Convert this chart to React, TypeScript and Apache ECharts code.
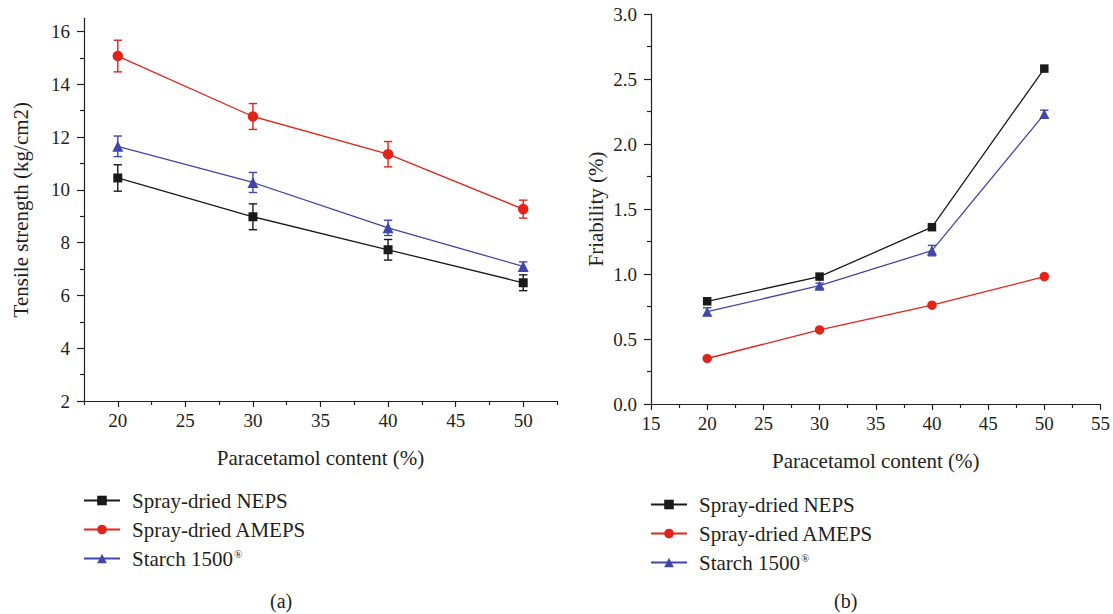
import React, { useEffect, useRef } from "react";
import * as echarts from "echarts";

const contentX = [20, 30, 40, 50];
const seriesNames = ["Spray-dried NEPS", "Spray-dried AMEPS", "Starch 1500®"];

const tensileNEPS = [10.45, 8.98, 7.73, 6.48];
const tensileNEPSErr = [0.5, 0.49, 0.39, 0.3];
const tensileAMEPS = [15.07, 12.78, 11.35, 9.27];
const tensileAMEPSErr = [0.6, 0.49, 0.48, 0.34];
const tensileStarch = [11.65, 10.28, 8.56, 7.1];
const tensileStarchErr = [0.39, 0.38, 0.29, 0.17];

const friabNEPS = [0.79, 0.98, 1.36, 2.58];
const friabAMEPS = [0.35, 0.57, 0.76, 0.98];
const friabStarch = [0.71, 0.91, 1.18, 2.23];
const friabStarchErr = [0.03, 0.02, 0.04, 0.03];

const leftXMajor = [20, 25, 30, 35, 40, 45, 50];
const leftXMinor = [17.5, 22.5, 27.5, 32.5, 37.5, 42.5, 47.5, 52.5];
const leftYMajor = [2, 4, 6, 8, 10, 12, 14, 16];
const leftYMinor = [3, 5, 7, 9, 11, 13, 15];
const rightXMajor = [15, 20, 25, 30, 35, 40, 45, 50, 55];
const rightXMinor = [17.5, 22.5, 27.5, 32.5, 37.5, 42.5, 47.5, 52.5];
const rightYMajor = [0, 0.5, 1, 1.5, 2, 2.5, 3];
const rightYMinor = [0.25, 0.75, 1.25, 1.75, 2.25, 2.75];

const COLORS = ["#1a1a1a", "#e2231a", "#3f47aa"];
const SYMBOLS = ["rect", "circle", "triangle"];
const FONT = "Liberation Serif";
const INK = "#231f20";

export default function App() {
  const ref = useRef<HTMLDivElement>(null);
  useEffect(() => {
    if (!ref.current) return;
    const chart = echarts.init(ref.current, null, { renderer: "svg" });

    const axisLine = { show: true, lineStyle: { color: INK, width: 1.2 } };
    const labelStyle = { fontFamily: FONT, fontSize: 19, color: INK };

    const mkMainX = (gridIndex: number, min: number, max: number, major: number[], nameGap: number) => ({
      type: "value",
      gridIndex,
      min,
      max,
      position: "bottom",
      axisLine,
      splitLine: { show: false },
      axisTick: { show: true, customValues: major, length: 6, inside: false, lineStyle: { color: INK, width: 1.2 } },
      axisLabel: { customValues: major, margin: 10, ...labelStyle },
      name: "Paracetamol content (%)",
      nameLocation: "middle",
      nameGap,
      nameTextStyle: { fontFamily: FONT, fontSize: 21, color: INK },
    });
    const mkMinorX = (gridIndex: number, min: number, max: number, minor: number[]) => ({
      type: "value",
      gridIndex,
      min,
      max,
      position: "bottom",
      axisLine: { show: false },
      splitLine: { show: false },
      axisTick: { show: true, customValues: minor, length: 4, lineStyle: { color: INK, width: 1.2 } },
      axisLabel: { show: false },
    });
    const mkMainY = (gridIndex: number, min: number, max: number, major: number[], name: string, nameGap: number, fmt?: (v: number) => string) => ({
      type: "value",
      gridIndex,
      min,
      max,
      position: "left",
      axisLine,
      splitLine: { show: false },
      axisTick: { show: true, customValues: major, length: 7, lineStyle: { color: INK, width: 1.2 } },
      axisLabel: { customValues: major, margin: 14, ...labelStyle, formatter: fmt },
      name,
      nameLocation: "middle",
      nameRotate: 90,
      nameGap,
      nameTextStyle: { fontFamily: FONT, fontSize: 21, color: INK },
    });
    const mkMinorY = (gridIndex: number, min: number, max: number, minor: number[]) => ({
      type: "value",
      gridIndex,
      min,
      max,
      position: "left",
      axisLine: { show: false },
      splitLine: { show: false },
      axisTick: { show: true, customValues: minor, length: 4, lineStyle: { color: INK, width: 1.2 } },
      axisLabel: { show: false },
    });

    const lineSeries = (i: number, vals: number[], axisIdx: number, size: number) => ({
      type: "line",
      name: seriesNames[i],
      xAxisIndex: axisIdx,
      yAxisIndex: axisIdx,
      data: contentX.map((x, k) => [x, vals[k]]),
      symbol: SYMBOLS[i],
      symbolSize: i === 0 ? size - 1.5 : size,
      color: COLORS[i],
      lineStyle: { color: COLORS[i], width: 1.3 },
      itemStyle: { color: COLORS[i] },
      z: 5,
    });

    const errSeries = (i: number, vals: number[], errs: number[], axisIdx: number) => ({
      type: "custom",
      name: seriesNames[i] + " err",
      xAxisIndex: axisIdx,
      yAxisIndex: axisIdx,
      data: contentX.map((x, k) => [x, vals[k], vals[k] - errs[k], vals[k] + errs[k]]),
      encode: { x: 0, y: [2, 3] },
      z: 3,
      renderItem: (_params: any, api: any) => {
        const x = api.value(0);
        const lo = api.coord([x, api.value(2)]);
        const hi = api.coord([x, api.value(3)]);
        const hw = 4.2;
        const style = { stroke: COLORS[i], lineWidth: 1.4, fill: "none" };
        return {
          type: "group",
          children: [
            { type: "line", shape: { x1: lo[0], y1: lo[1], x2: hi[0], y2: hi[1] }, style },
            { type: "line", shape: { x1: lo[0] - hw, y1: lo[1], x2: lo[0] + hw, y2: lo[1] }, style },
            { type: "line", shape: { x1: hi[0] - hw, y1: hi[1], x2: hi[0] + hw, y2: hi[1] }, style },
          ],
        };
      },
    });

    const legendFormatter = (name: string) =>
      name === "Starch 1500®" ? "{t|Starch 1500}{s|®}" : "{t|" + name + "}";
    const legendText = {
      fontFamily: FONT,
      fontSize: 21,
      color: INK,
      padding: [0, 0, 0, 7],
      rich: {
        t: { fontFamily: FONT, fontSize: 21, color: INK },
        s: { fontFamily: FONT, fontSize: 11, color: INK, verticalAlign: "top", padding: [0, 0, 9, 1] },
      },
    };

    chart.setOption({
      animation: false,
      backgroundColor: "#ffffff",
      grid: [
        { left: 84, top: 18.3, width: 473, height: 382.7 },
        { left: 651, top: 14, width: 451, height: 390 },
      ],
      xAxis: [
        mkMainX(0, 17.5, 52.5, leftXMajor, 46),
        mkMainX(1, 15, 55, rightXMajor, 46),
        mkMinorX(0, 17.5, 52.5, leftXMinor),
        mkMinorX(1, 15, 55, rightXMinor),
      ],
      yAxis: [
        mkMainY(0, 2, 16.5, leftYMajor, "Tensile strength (kg/cm2)", 53),
        mkMainY(1, 0, 3, rightYMajor, "Friability (%)", 45, (v: number) => v.toFixed(1)),
        mkMinorY(0, 2, 16.5, leftYMinor),
        mkMinorY(1, 0, 3, rightYMinor),
      ],
      legend: [
        {
          left: 83,
          top: 490,
          padding: 0,
          orient: "vertical",
          itemWidth: 36,
          itemHeight: 12,
          itemGap: 8,
          data: seriesNames,
          formatter: legendFormatter,
          textStyle: legendText,
          selectedMode: false,
        },
        {
          left: 650,
          top: 494,
          padding: 0,
          orient: "vertical",
          itemWidth: 36,
          itemHeight: 12,
          itemGap: 8,
          data: seriesNames,
          formatter: legendFormatter,
          textStyle: legendText,
          selectedMode: false,
        },
      ],
      graphic: [
        { type: "text", left: 270, top: 591, style: { text: "(a)", fontFamily: FONT, fontSize: 20, fill: INK } },
        { type: "text", left: 834, top: 591, style: { text: "(b)", fontFamily: FONT, fontSize: 20, fill: INK } },
      ],
      series: [
        errSeries(0, tensileNEPS, tensileNEPSErr, 0),
        errSeries(1, tensileAMEPS, tensileAMEPSErr, 0),
        errSeries(2, tensileStarch, tensileStarchErr, 0),
        lineSeries(0, tensileNEPS, 0, 10.5),
        lineSeries(1, tensileAMEPS, 0, 10.5),
        lineSeries(2, tensileStarch, 0, 11),
        errSeries(2, friabStarch, friabStarchErr, 1),
        lineSeries(0, friabNEPS, 1, 10),
        lineSeries(1, friabAMEPS, 1, 9.5),
        lineSeries(2, friabStarch, 1, 10),
      ],
    });
    return () => chart.dispose();
  }, []);
  return (
    <div
      ref={ref}
      style={{ position: "fixed", left: 0, top: 0, width: 1113, height: 614, background: "#fff" }}
    />
  );
}
